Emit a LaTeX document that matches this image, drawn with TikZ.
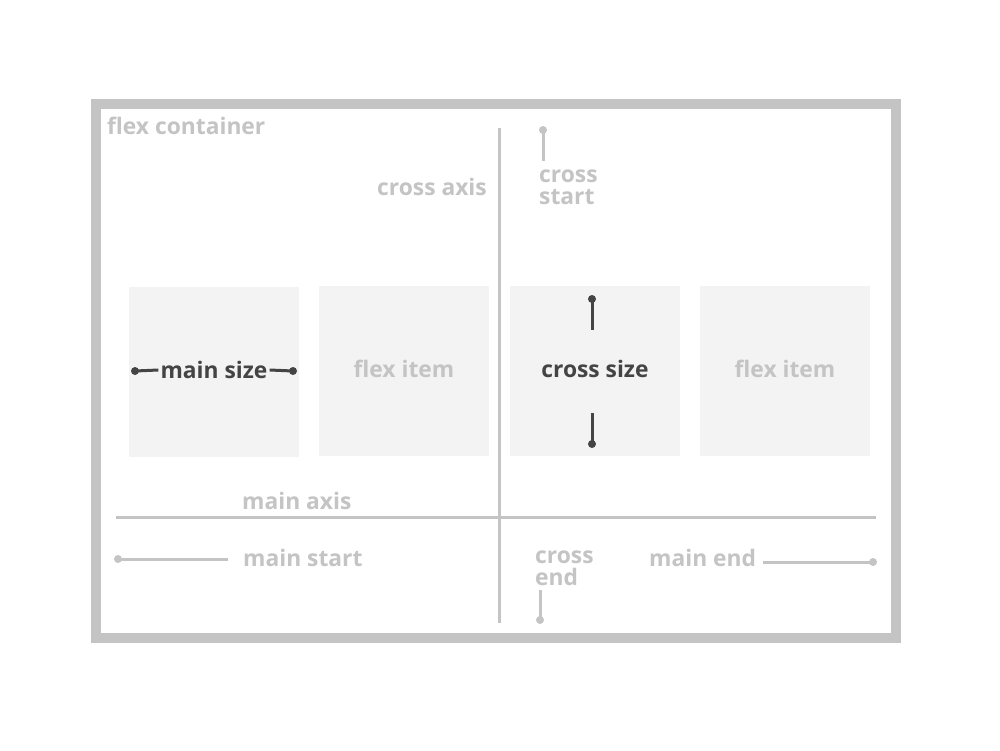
\documentclass[tikz,border=0pt]{standalone}
\usepackage{fontspec}
\setmainfont{Open Sans}
\definecolor{lg}{HTML}{C4C4C4}
\definecolor{dk}{HTML}{444444}
\definecolor{itemfill}{HTML}{F3F3F3}
\begin{document}
\begin{tikzpicture}[x=1pt,y=-1pt,
  lbl/.style={inner sep=0pt, font=\fontsize{22.8}{22}\selectfont\bfseries, text=lg},
  dlbl/.style={inner sep=0pt, font=\fontsize{22.8}{22}\selectfont\bfseries, text=dk},
  itembox/.style={fill=itemfill, draw=none, minimum width=170pt, minimum height=170pt, inner sep=0pt},
  axis/.style={draw=lg, line width=3pt},
  gline/.style={draw=lg, line width=3pt},
  dline/.style={draw=dk, line width=3pt},
  gdot/.style={circle, fill=lg, inner sep=0pt, minimum size=8pt},
  ddot/.style={circle, fill=dk, inner sep=0pt, minimum size=8pt}]
\useasboundingbox (0,0) rectangle (1000,750);
\fill[white] (0,0) rectangle (1000,750);
\draw[lg, line width=10pt] (96,104) rectangle (896,638);
% items
\node[itembox] (i1) at (214,372) {};
\node[itembox] (i2) at (404,371) {};
\node[itembox] (i3) at (595,371) {};
\node[itembox] (i4) at (785,371) {};
\node[lbl] (f2) at (404,369) {flex item};
\node[lbl] (f4) at (785,369) {flex item};
% axes
\coordinate (cat) at (499,128);
\coordinate (cab) at (499,623);
\coordinate (mal) at (116,517);
\coordinate (mar) at (876,517);
\draw[axis] (cat) -- (cab);
\draw[axis] (mal) -- (mar);
% labels
\node[lbl, anchor=west] (fc) at (107,126) {flex container};
\node[lbl, anchor=east] (cax) at (487,187) {cross axis};
\node[lbl, anchor=west, align=left] (cs) at (539,187) {cross\\start};
\node[lbl, anchor=west] (max) at (242,501) {main axis};
\node[lbl, anchor=west] (ms) at (243,558) {main start};
\node[lbl, anchor=west] (me) at (649,558) {main end};
\node[lbl, anchor=west, align=left] (ce) at (535,568) {cross\\end};
% cross start marker
\node[gdot] (csd) at (543,130) {};
\coordinate (cse) at (543,161);
\draw[gline] (csd.center) -- (cse);
% main start marker
\node[gdot] (msd) at (118,559) {};
\coordinate (mse) at (228,559);
\draw[gline] (msd.center) -- (mse);
% main end marker
\node[gdot] (med) at (873,562) {};
\coordinate (mee) at (763,562);
\draw[gline] (mee) -- (med.center);
% cross end marker
\node[gdot] (ced) at (540,620) {};
\coordinate (cee) at (540,590);
\draw[gline] (cee) -- (ced.center);
% main size
\node[dlbl, inner xsep=2pt] (msz) at (214,370) {main size};
\node[ddot] (msl) at (135,371) {};
\node[ddot] (msr) at (293,371) {};
\draw[dline] (msl.center) -- (msz.west);
\draw[dline] (msz.east) -- (msr.center);
% cross size
\node[dlbl] (csz) at (595,369) {cross size};
\node[ddot] (cst) at (592,299) {};
\node[ddot] (csb) at (592,444) {};
\coordinate (cst2) at (592,330);
\coordinate (csb2) at (592,413);
\draw[dline] (cst.center) -- (cst2);
\draw[dline] (csb2) -- (csb.center);
\end{tikzpicture}
\end{document}
